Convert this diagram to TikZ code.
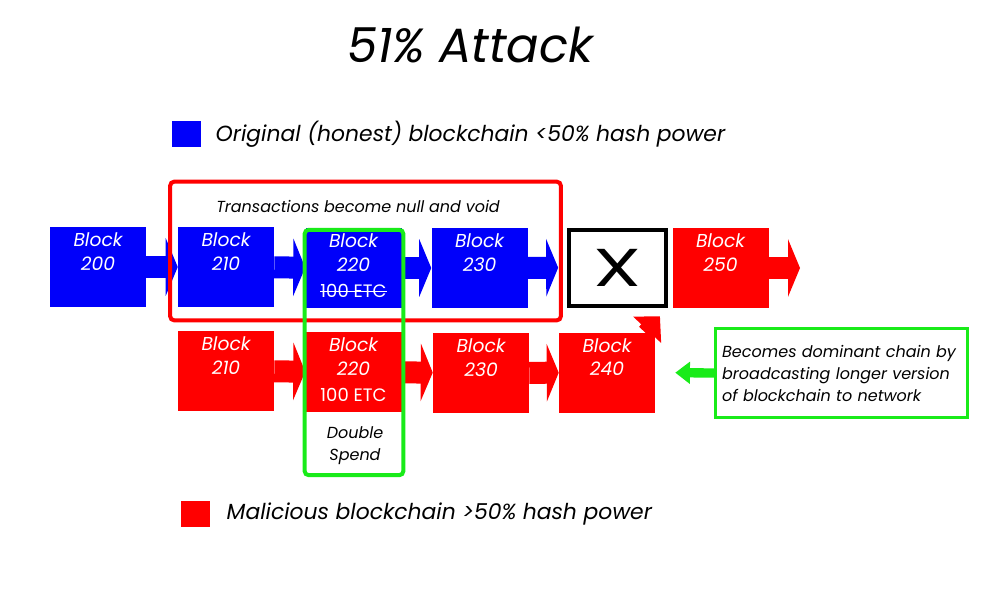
\documentclass[tikz,border=0pt]{standalone}
\usepackage{fontspec}
\setmainfont{Poppins}
\usetikzlibrary{arrows.meta,positioning}
\definecolor{chainblue}{RGB}{0,0,250}
\definecolor{chainred}{RGB}{255,0,0}
\definecolor{spendgreen}{RGB}{25,235,25}
\newsavebox{\strikebox}
\newcommand{\strikeout}[1]{\sbox{\strikebox}{#1}\rlap{\usebox{\strikebox}}\rule[0.3em]{\wd\strikebox}{0.6pt}}

\begin{document}
\begin{tikzpicture}[x=0.75pt, y=-0.75pt,
  blk/.style={minimum width=72pt, minimum height=60pt, inner sep=0pt},
  blueblk/.style={blk, fill=chainblue},
  redblk/.style={blk, fill=chainred},
  blktext/.style={anchor=north, text=white, align=center, inner sep=2pt, yshift=-2.5pt,
    font=\fontsize{14}{17.5}\selectfont\itshape},
  link/.style={line width=16.5pt, -{Triangle[length=9pt, width=43pt]}},
  note/.style={font=\fontsize{12}{16.5}\selectfont\itshape, align=left}]
  \useasboundingbox (0,0) rectangle (1000,600);

  % Title and key
  \node (title) at (470,45) {\fontsize{36}{40}\selectfont\itshape 51\% Attack};
  \node[fill=chainblue, minimum width=22pt, minimum height=19.5pt, inner sep=0pt] (keyblue) at (186.5,134) {};
  \node[anchor=west, font=\fontsize{16.4}{18}\selectfont\itshape] (keybluetext) at (211,134)
    {Original (honest) blockchain <50\% hash power};
  \node[fill=chainred, minimum width=22pt, minimum height=19.5pt, inner sep=0pt] (keyred) at (195.5,514) {};
  \node[anchor=west, font=\fontsize{16.4}{18}\selectfont\itshape] (keyredtext) at (222,514)
    {Malicious blockchain >50\% hash power};

  % Honest chain on top
  \node[blueblk, label={[blktext]north:Block\\200}] (B200) at (98,267) {};
  \node[blueblk, label={[blktext]north:Block\\210}] (B210) at (226,267) {};
  \node[blueblk, label={[blktext]north:Block\\220\\[2pt]{\upshape\fontsize{13.5}{15}\selectfont\strikeout{100 ETC}}}] (B220) at (353.5,268) {};
  \node[blueblk, label={[blktext]north:Block\\230}] (B230) at (479.5,268) {};
  \node[draw=black, line width=3pt, minimum width=73pt, minimum height=57pt,
    font=\fontsize{40}{40}\selectfont] (Xbox) at (617.5,267.5) {\scalebox{1.45}[1]{X}};
  \node[redblk, label={[blktext]north:Block\\250}] (B250) at (720.5,268) {};
  \coordinate (Bend) at (800,268);

  \draw[link, chainblue] (B200) -- (B210);
  \draw[link, chainblue] (B210) -- (B220);
  \draw[link, chainblue] (B220) -- (B230);
  \draw[link, chainblue, shorten >=6.5pt] (B230) -- (Xbox);
  \draw[link, chainred] (B250.east) -- (Bend);

  % Malicious chain below
  \node[redblk, label={[blktext]north:Block\\210}] (R210) at (226,371) {};
  \node[redblk, label={[blktext]north:Block\\220\\[2pt]{\upshape\fontsize{13.5}{15}\selectfont 100 ETC}}] (R220) at (353.5,372) {};
  \node[redblk, label={[blktext]north:Block\\230}] (R230) at (481,373) {};
  \node[redblk, label={[blktext]north:Block\\240}] (R240) at (607,372.5) {};

  \draw[link, chainred] (R210) -- (R220);
  \draw[link, chainred] (R220) -- (R230);
  \draw[link, chainred] (R230) -- (R240);
  \draw[line width=12pt, chainred, -{Triangle[length=14pt, width=28pt]}, shorten >=9pt]
    (R240) -- (Xbox.south east);

  % Frames
  \node[draw=chainred, line width=3pt, rounded corners=3pt, minimum width=293pt,
    minimum height=104pt] (voidframe) at (365.5,251) {};
  \node[font=\fontsize{12}{14}\selectfont\itshape] (voidtext) at (358,206)
    {Transactions become null and void};
  \node[draw=spendgreen, line width=3pt, rounded corners=3pt, minimum width=74pt,
    minimum height=184pt] (spendframe) at (354,352.5) {};
  \node[note, align=center] (spendtext) at (355,446) {Double\\Spend};

  % Note on the right
  \node[note, draw=spendgreen, line width=2.5pt, text width=179pt, inner xsep=5pt,
    minimum height=67pt] (domnote) at (841.5,373)
    {Becomes dominant chain by broadcasting longer version of blockchain to network};
  \draw[spendgreen, line width=7pt, -{Triangle[length=11pt, width=16pt]}, shorten >=15pt]
    (domnote.west) -- (R240.east);
\end{tikzpicture}
\end{document}
